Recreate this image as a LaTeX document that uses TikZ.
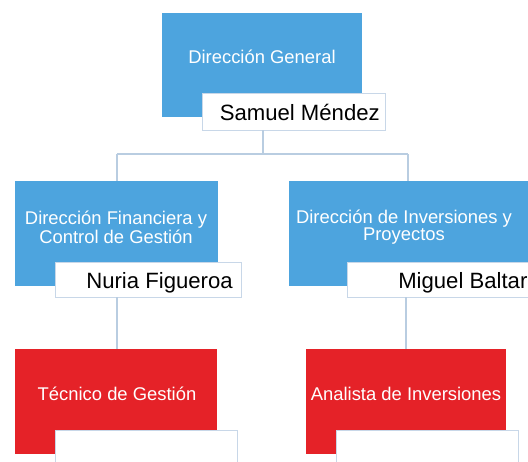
\documentclass[tikz,border=0pt]{standalone}
\usepackage{fontspec}
\setmainfont{Liberation Sans}
\definecolor{boxblue}{RGB}{77,164,222}
\definecolor{boxred}{RGB}{229,34,40}
\definecolor{linec}{RGB}{185,205,225}
\definecolor{namebd}{RGB}{200,215,232}
\begin{document}
\begin{tikzpicture}[x=0.75pt,y=-0.75pt,
  shape box/.style={anchor=north west, inner sep=0pt, outer sep=0pt, rectangle},
  bluebox/.style={shape box, fill=boxblue},
  redbox/.style={shape box, fill=boxred},
  namebox/.style={shape box, fill=white, draw=namebd, line width=0.6pt},
  roletext/.style={text=white, font=\fontsize{13.8pt}{12.9pt}\selectfont, align=center, inner sep=0pt},
  nametext/.style={text=black, font=\fontsize{16.6pt}{18pt}\selectfont, inner sep=0pt, anchor=base east},
  conn/.style={draw=linec, line width=0.8pt}]
\useasboundingbox (0,0) rectangle (528,461);
\clip (0,0) rectangle (528,461);
\fill[white] (0,0) rectangle (528,461);

% boxes
\node[bluebox, minimum width=150pt, minimum height=78pt] (dg) at (162,13) {};
\node[namebox, minimum width=137.25pt, minimum height=27.75pt] (sm) at (202,93) {};

\node[bluebox, minimum width=152.25pt, minimum height=78.75pt] (df) at (15,181) {};
\node[namebox, minimum width=139.5pt, minimum height=26.25pt] (nf) at (55,262) {};

\node[bluebox, minimum width=182pt, minimum height=78.75pt] (di) at (289,181) {};
\node[namebox, minimum width=138pt, minimum height=26.25pt] (mb) at (347,262) {};

\node[redbox, minimum width=151.5pt, minimum height=78.75pt] (tg) at (15,349) {};
\node[namebox, minimum width=136.5pt, minimum height=30pt] (w1) at (55,430) {};

\node[redbox, minimum width=150pt, minimum height=78.75pt] (ai) at (306,349) {};
\node[namebox, minimum width=136.5pt, minimum height=30pt] (w2) at (336,430) {};

% texts
\node[roletext] (tdg) at (262,57) {Dirección General};
\node[nametext] (tsm) at (380,120) {Samuel Méndez};
\node[roletext] (tdf) at (116,227) {Dirección Financiera y\\Control de Gestión};
\node[nametext] (tnf) at (233,288) {Nuria Figueroa};
\node[roletext] (tdi) at (404,227) {Dirección de Inversiones y\\Proyectos};
\node[nametext, anchor=base west] (tmb) at (398,288) {Miguel Baltar};
\node[roletext] (ttg) at (117,394) {Técnico de Gestión};
\node[roletext] (tai) at (406,394) {Analista de Inversiones};

% connectors
\coordinate (j) at (263,154);
\coordinate (jl) at (117,154);
\coordinate (jr) at (408,154);
\draw[conn] (j |- sm.south) -- (j);
\draw[conn] (jl) -- (jr);
\draw[conn] (jl) -- (jl |- df.north);
\draw[conn] (jr) -- (jr |- di.north);
\draw[conn] (tg.north -| jl) -- (jl |- nf.south);
\coordinate (jr2) at (406,300);
\draw[conn] (ai.north) -- (ai.north |- mb.south);
\end{tikzpicture}
\end{document}
